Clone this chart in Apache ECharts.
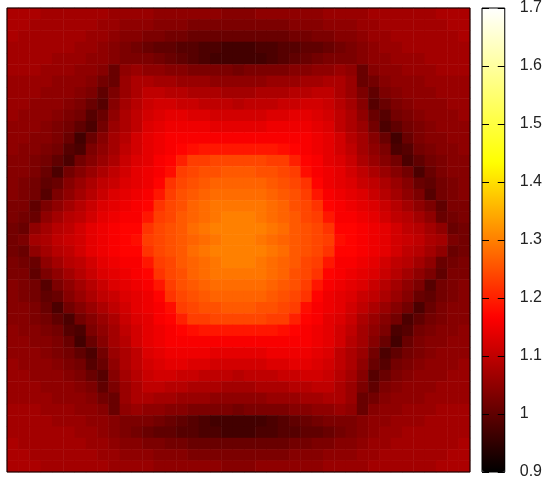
<!DOCTYPE html>
<html>
<head>
<meta charset="utf-8">
<style>
html, body { margin: 0; padding: 0; background: #fff; }
#chart { width: 545px; height: 481px; }
</style>
<script src="https://cdn.jsdelivr.net/npm/echarts@6/dist/echarts.min.js"></script>
</head>
<body>
<div id="chart"></div>
<script>
// surface values, in hundredths, top row first
const surface = [
[108,108,108,107,107,107,107,107,107,106,106,106,106,105,105,105,105,105,105,104,104,104,105,105,105,105,105,105,106,106,106,106,107,107,107,107,107,107,108,108,108],
[108,108,107,107,107,107,107,107,106,106,105,105,105,104,104,104,103,103,103,103,103,103,103,103,103,104,104,104,105,105,105,106,106,107,107,107,107,107,107,108,108],
[108,107,107,107,107,107,107,106,106,105,104,104,103,103,102,102,101,101,101,101,101,101,101,101,101,102,102,103,103,104,104,105,106,106,107,107,107,107,107,107,108],
[107,107,107,107,107,107,106,106,105,104,103,102,101,100,100,99,99,98,98,97,97,97,98,98,99,99,100,100,101,102,103,104,105,106,106,107,107,107,107,107,107],
[107,107,107,107,106,106,106,105,105,104,103,103,103,102,101,100,99,98,97,97,97,97,97,98,99,100,101,102,103,103,103,104,105,105,106,106,106,107,107,107,107],
[107,107,107,106,106,106,105,105,104,101,105,106,105,105,104,104,103,103,103,103,102,103,103,103,103,104,104,105,105,106,105,101,104,105,105,106,106,106,107,107,107],
[106,106,106,106,105,105,105,104,102,101,106,108,108,107,107,106,106,106,105,105,105,105,105,106,106,106,107,107,108,108,106,101,102,104,105,105,105,106,106,106,106],
[106,106,106,105,105,105,104,103,100,103,106,108,110,110,109,109,108,108,108,107,107,107,108,108,108,109,109,110,110,108,106,103,100,103,104,105,105,105,106,106,106],
[106,106,105,105,105,104,103,101,99,104,107,109,111,112,112,111,111,110,110,110,109,110,110,110,111,111,112,112,111,109,107,104,99,101,103,104,105,105,105,106,106],
[106,105,105,105,104,103,102,99,101,105,108,110,112,113,114,114,113,113,112,112,112,112,112,113,113,114,114,113,112,110,108,105,101,99,102,103,104,105,105,105,106],
[105,105,105,104,103,102,100,98,102,106,108,110,113,114,115,115,115,115,114,114,114,114,114,115,115,115,115,114,113,110,108,106,102,98,100,102,103,104,105,105,105],
[105,105,104,104,103,101,97,101,104,107,109,112,114,115,116,116,116,116,116,116,116,116,116,116,116,116,116,115,114,112,109,107,104,101,97,101,103,104,104,105,105],
[105,104,104,103,102,99,98,103,105,107,110,112,114,115,116,117,118,119,119,119,119,119,119,119,118,117,116,115,114,112,110,107,105,103,98,99,102,103,104,104,105],
[104,104,103,102,100,98,102,104,106,108,111,113,114,116,117,120,123,123,124,124,124,124,124,123,123,120,117,116,114,113,111,108,106,104,102,98,100,102,103,104,104],
[104,104,103,101,98,102,104,106,108,110,112,114,115,116,118,123,124,125,125,126,126,126,125,125,124,123,118,116,115,114,112,110,108,106,104,102,98,101,103,104,104],
[104,103,102,100,101,104,106,108,110,111,113,114,115,117,122,124,125,126,127,127,127,127,127,126,125,124,122,117,115,114,113,111,110,108,106,104,101,100,102,103,104],
[104,103,102,99,103,105,107,109,111,113,114,115,116,119,123,125,126,127,128,128,128,128,128,127,126,125,123,119,116,115,114,113,111,109,107,105,103,99,102,103,104],
[103,103,100,103,105,107,109,111,113,114,115,116,117,122,124,125,127,128,129,129,129,129,129,128,127,125,124,122,117,116,115,114,113,111,109,107,105,103,100,103,103],
[103,102,101,105,107,109,110,112,114,115,116,116,119,123,124,126,127,128,129,130,130,130,129,128,127,126,124,123,119,116,116,115,114,112,110,109,107,105,101,102,103],
[102,101,105,107,109,110,112,114,115,116,117,117,122,124,125,126,128,129,130,130,130,130,130,129,128,126,125,124,122,117,117,116,115,114,112,110,109,107,105,101,102],
[102,103,107,108,110,111,112,114,115,116,117,118,123,124,125,126,127,128,129,130,130,130,129,128,127,126,125,124,123,118,117,116,115,114,112,111,110,108,107,103,102],
[102,101,105,107,109,110,112,114,115,116,117,117,122,124,125,126,128,129,130,130,130,130,130,129,128,126,125,124,122,117,117,116,115,114,112,110,109,107,105,101,102],
[103,102,101,105,107,109,110,112,114,115,116,116,119,123,124,126,127,128,129,130,130,130,129,128,127,126,124,123,119,116,116,115,114,112,110,109,107,105,101,102,103],
[103,103,100,103,105,107,109,111,113,114,115,116,117,122,124,125,127,128,129,129,129,129,129,128,127,125,124,122,117,116,115,114,113,111,109,107,105,103,100,103,103],
[104,103,102,99,103,105,107,109,111,113,114,115,116,119,123,125,126,127,128,128,128,128,128,127,126,125,123,119,116,115,114,113,111,109,107,105,103,99,102,103,104],
[104,103,102,100,101,104,106,108,110,111,113,114,115,117,122,124,125,126,127,127,127,127,127,126,125,124,122,117,115,114,113,111,110,108,106,104,101,100,102,103,104],
[104,104,103,101,98,102,104,106,108,110,112,114,115,116,118,123,124,125,125,126,126,126,125,125,124,123,118,116,115,114,112,110,108,106,104,102,98,101,103,104,104],
[104,104,103,102,100,98,102,104,106,108,111,113,114,116,117,120,123,123,124,124,124,124,124,123,123,120,117,116,114,113,111,108,106,104,102,98,100,102,103,104,104],
[105,104,104,103,102,99,98,103,105,107,110,112,114,115,116,117,118,119,119,119,119,119,119,119,118,117,116,115,114,112,110,107,105,103,98,99,102,103,104,104,105],
[105,105,104,104,103,101,97,101,104,107,109,112,114,115,116,116,116,116,116,116,116,116,116,116,116,116,116,115,114,112,109,107,104,101,97,101,103,104,104,105,105],
[105,105,105,104,103,102,100,98,102,106,108,110,113,114,115,115,115,115,114,114,114,114,114,115,115,115,115,114,113,110,108,106,102,98,100,102,103,104,105,105,105],
[106,105,105,105,104,103,102,99,101,105,108,110,112,113,114,114,113,113,112,112,112,112,112,113,113,114,114,113,112,110,108,105,101,99,102,103,104,105,105,105,106],
[106,106,105,105,105,104,103,101,99,104,107,109,111,112,112,111,111,110,110,110,109,110,110,110,111,111,112,112,111,109,107,104,99,101,103,104,105,105,105,106,106],
[106,106,106,105,105,105,104,103,100,103,106,108,110,110,109,109,108,108,108,107,107,107,108,108,108,109,109,110,110,108,106,103,100,103,104,105,105,105,106,106,106],
[106,106,106,106,105,105,105,104,102,101,106,108,108,107,107,106,106,106,105,105,105,105,105,106,106,106,107,107,108,108,106,101,102,104,105,105,105,106,106,106,106],
[107,107,107,106,106,106,105,105,104,101,105,106,105,105,104,104,103,103,103,103,102,103,103,103,103,104,104,105,105,106,105,101,104,105,105,106,106,106,107,107,107],
[107,107,107,107,106,106,106,105,105,104,103,103,103,102,101,100,99,98,97,97,97,97,97,98,99,100,101,102,103,103,103,104,105,105,106,106,106,107,107,107,107],
[107,107,107,107,107,107,106,106,105,104,103,102,101,100,100,99,99,98,98,97,97,97,98,98,99,99,100,100,101,102,103,104,105,106,106,107,107,107,107,107,107],
[108,107,107,107,107,107,107,106,106,105,104,104,103,103,102,102,101,101,101,101,101,101,101,101,101,102,102,103,103,104,104,105,106,106,107,107,107,107,107,107,108],
[108,108,107,107,107,107,107,107,106,106,105,105,105,104,104,104,103,103,103,103,103,103,103,103,103,104,104,104,105,105,105,106,106,107,107,107,107,107,107,108,108],
[108,108,108,107,107,107,107,107,107,106,106,106,106,105,105,105,105,105,105,104,104,104,105,105,105,105,105,105,106,106,106,106,107,107,107,107,107,107,108,108,108]
];
const colorMin = 0.9;
const colorMax = 1.7;
const colorStep = 0.1;
const hotColors = ['#000000', '#ff0000', '#ffff00', '#ffffff'];

const cols = surface[0].map(function(v, i) { return i; });
const rows = surface.map(function(v, i) { return i; });
const cells = [];
surface.forEach(function(row, y) {
	row.forEach(function(v, x) {
		cells.push([x, y, v / 100]);
	});
});

const chart = echarts.init(document.getElementById('chart'), null, { renderer: 'canvas' });
const barTick = { show: true, inside: true, length: 7, lineStyle: { color: '#000', width: 1 } };

chart.setOption({
	animation: false,
	backgroundColor: '#fff',
	grid: [
		{ left: 7, top: 8, width: 463, height: 464, show: true, z: 5, borderColor: '#000', borderWidth: 1, backgroundColor: 'transparent' },
		{ left: 482, top: 8, width: 23, height: 464, show: true, z: 5, borderColor: '#000', borderWidth: 1, backgroundColor: 'transparent' }
	],
	xAxis: [
		{ type: 'category', gridIndex: 0, data: cols, show: false },
		{ type: 'value', gridIndex: 1, show: false, min: 0, max: 1 }
	],
	yAxis: [
		{ type: 'category', gridIndex: 0, data: rows, inverse: true, show: false },
		{
			type: 'value', gridIndex: 1, position: 'left', min: colorMin, max: colorMax, interval: colorStep, z: 6,
			axisLine: { show: false }, splitLine: { show: false }, axisLabel: { show: false }, axisTick: barTick
		},
		{
			type: 'value', gridIndex: 1, position: 'right', min: colorMin, max: colorMax, interval: colorStep, z: 6,
			axisLine: { show: false }, splitLine: { show: false }, axisTick: barTick,
			axisLabel: { show: true, margin: 15, color: '#222', fontFamily: 'Liberation Sans', fontSize: 16, hideOverlap: false }
		}
	],
	visualMap: {
		type: 'continuous',
		seriesIndex: 0,
		min: colorMin,
		max: colorMax,
		left: 482,
		top: 8,
		itemWidth: 23,
		itemHeight: 464,
		padding: 0,
		calculable: false,
		realtime: false,
		text: null,
		showLabel: false,
		z: 4,
		inRange: { color: hotColors }
	},
	series: [{
		type: 'heatmap',
		xAxisIndex: 0,
		yAxisIndex: 0,
		data: cells,
		progressive: 0,
		itemStyle: { borderWidth: 0 },
		emphasis: { disabled: true }
	}]
});
</script>
</body>
</html>
